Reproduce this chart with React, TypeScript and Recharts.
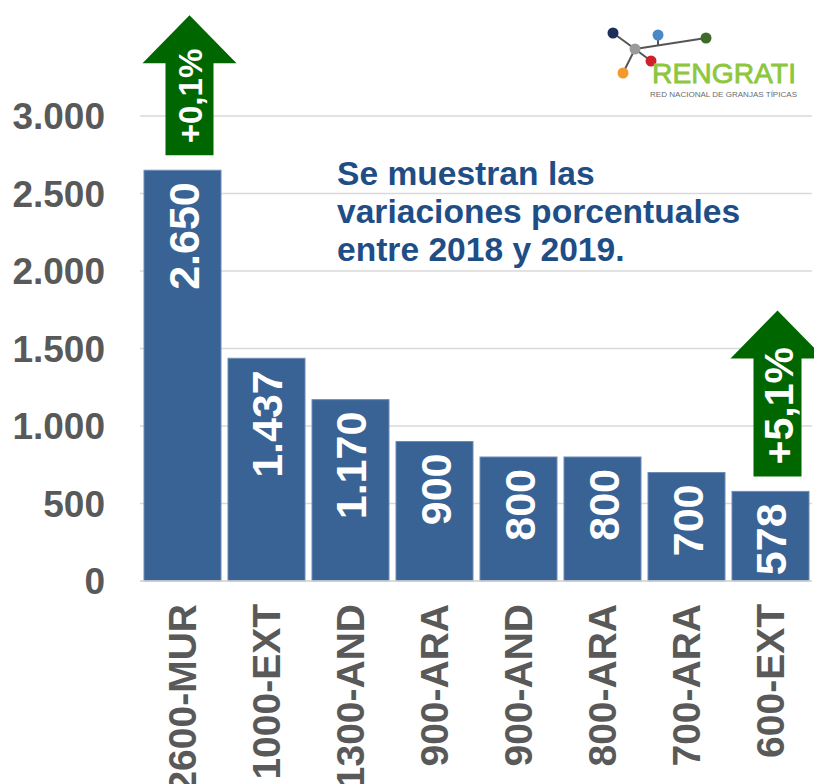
import { BarChart, Bar, XAxis, YAxis, CartesianGrid } from "recharts"

const categorias = ["2600-MUR", "1000-EXT", "1300-AND", "900-ARA", "900-AND", "800-ARA", "700-ARA", "600-EXT"]
const valores = [2650, 1437, 1170, 900, 800, 800, 700, 578]
const variaciones = ["+0,1%", "", "", "", "", "", "", "+5,1%"]
const yTicks = [0, 500, 1000, 1500, 2000, 2500, 3000]
const notaLineas = ["Se muestran las", "variaciones porcentuales", "entre 2018 y 2019."]

const data = categorias.map((c, i) => ({ name: c, valor: valores[i] }))

const FONT = '"Liberation Sans", Arial, Helvetica, sans-serif'
const GRIS = "#595959"
const AZUL = "#386394"
const VERDE = "#006600"

// arrow sizes per bar that carries a variation
const flechaEstilo: Record<number, { largo: number; fontSize: number }> = {
  0: { largo: 140, fontSize: 33 },
  7: { largo: 166, fontSize: 41 },
}

const fmt = (v: number) => String(v).replace(/\B(?=(\d{3})+(?!\d))/g, ".")

function BarraConEtiqueta(props: any) {
  const { x, y, width, height, index, value } = props
  const cx = x + width / 2
  const v = Array.isArray(value) ? value[1] : value
  const variacion = variaciones[index]
  let flecha = null
  if (variacion) {
    const est = flechaEstilo[index] || { largo: 150, fontSize: 36 }
    const ax = cx + 7
    const base = y - 15
    const punta = base - est.largo
    const cuello = punta + 48
    const pts = [
      [ax - 24, base],
      [ax - 24, cuello],
      [ax - 47, cuello],
      [ax, punta],
      [ax + 47, cuello],
      [ax + 24, cuello],
      [ax + 24, base],
    ]
      .map((p) => p.join(","))
      .join(" ")
    flecha = (
      <g>
        <polygon points={pts} fill={VERDE} />
        <text
          x={ax + est.fontSize * 0.38}
          y={base - 12}
          transform={`rotate(-90 ${ax + est.fontSize * 0.38} ${base - 12})`}
          fill="#fff"
          fontSize={est.fontSize}
          fontWeight="bold"
          fontFamily={FONT}
          textAnchor="start"
        >
          {variacion}
        </text>
      </g>
    )
  }
  return (
    <g>
      <rect x={x} y={y} width={width} height={height} fill={AZUL} stroke="#6d8cb5" strokeWidth={1} />
      <text
        x={cx + 16}
        y={y + 12}
        transform={`rotate(-90 ${cx + 16} ${y + 12})`}
        fill="#fff"
        fontSize={43}
        fontWeight="bold"
        fontFamily={FONT}
        textAnchor="end"
      >
        {fmt(v)}
      </text>
      {flecha}
    </g>
  )
}

function TickCategoria(props: any) {
  const { x, y, payload } = props
  const tx = x + 14
  return (
    <text
      x={tx}
      y={y}
      transform={`rotate(-90 ${tx} ${y})`}
      fill={GRIS}
      fontSize={39}
      fontWeight="bold"
      fontFamily={FONT}
      textAnchor="end"
    >
      {payload.value}
    </text>
  )
}

function Logo() {
  const nodos = [
    { x: 613, y: 33, c: "#1f2f5c" },
    { x: 658, y: 35, c: "#4a88c7" },
    { x: 706, y: 38, c: "#3f6b2a" },
    { x: 635, y: 49, c: "#9a9a9a" },
    { x: 651, y: 61, c: "#d0202a" },
    { x: 623, y: 73, c: "#f39a2b" },
  ]
  return (
    <g>
      <line x1={613} y1={33} x2={635} y2={49} stroke="#555" strokeWidth={2} />
      <line x1={635} y1={49} x2={706} y2={38} stroke="#555" strokeWidth={2} />
      <line x1={658} y1={35} x2={658} y2={45} stroke="#555" strokeWidth={2} />
      <line x1={635} y1={49} x2={651} y2={61} stroke="#555" strokeWidth={2} />
      <line x1={635} y1={49} x2={623} y2={73} stroke="#555" strokeWidth={2} />
      {nodos.map((n, i) => (
        <circle key={i} cx={n.x} cy={n.y} r={5.5} fill={n.c} />
      ))}
      <text
        x={652}
        y={83}
        fill="#8dc63f"
        stroke="#8dc63f"
        strokeWidth={0.8}
        fontSize={28}
        fontFamily={FONT}
        textLength={144}
        lengthAdjust="spacingAndGlyphs"
      >
        RENGRATI
      </text>
      <text x={650} y={97} fill="#6b6b6b" fontSize={8} fontFamily={FONT} textLength={147} lengthAdjust="spacingAndGlyphs">
        RED NACIONAL DE GRANJAS TÍPICAS
      </text>
    </g>
  )
}

export default function App() {
  return (
    <div style={{ position: "absolute", left: 0, top: 0, width: 814, height: 784, background: "#fff", overflow: "hidden" }}>
      <BarChart width={814} height={784} data={data} margin={{ top: 116, right: 2, bottom: 0, left: 0 }}>
        <CartesianGrid vertical={false} stroke="#d9d9d9" strokeWidth={1.5} />
        <XAxis
          dataKey="name"
          interval={0}
          height={203}
          axisLine={{ stroke: "#d9d9d9", strokeWidth: 1.5 }}
          tickLine={false}
          tickSize={0}
          tickMargin={23}
          tick={<TickCategoria />}
        />
        <YAxis
          width={140}
          domain={[0, 3000]}
          ticks={yTicks}
          axisLine={false}
          tickLine={false}
          tickSize={0}
          tickMargin={35}
          tickFormatter={fmt}
          tick={{ fill: GRIS, fontSize: 37, fontWeight: "bold", fontFamily: FONT }}
        />
        <Bar dataKey="valor" barSize={77} isAnimationActive={false} shape={<BarraConEtiqueta />} />
      </BarChart>
      <svg width={814} height={784} style={{ position: "absolute", left: 0, top: 0, pointerEvents: "none" }}>
        <Logo />
        {notaLineas.map((l, i) => (
          <text key={i} x={337} y={185 + i * 38} fill="#1f4e86" fontSize={33.6} fontWeight="bold" fontFamily={FONT}>
            {l}
          </text>
        ))}
      </svg>
    </div>
  )
}
